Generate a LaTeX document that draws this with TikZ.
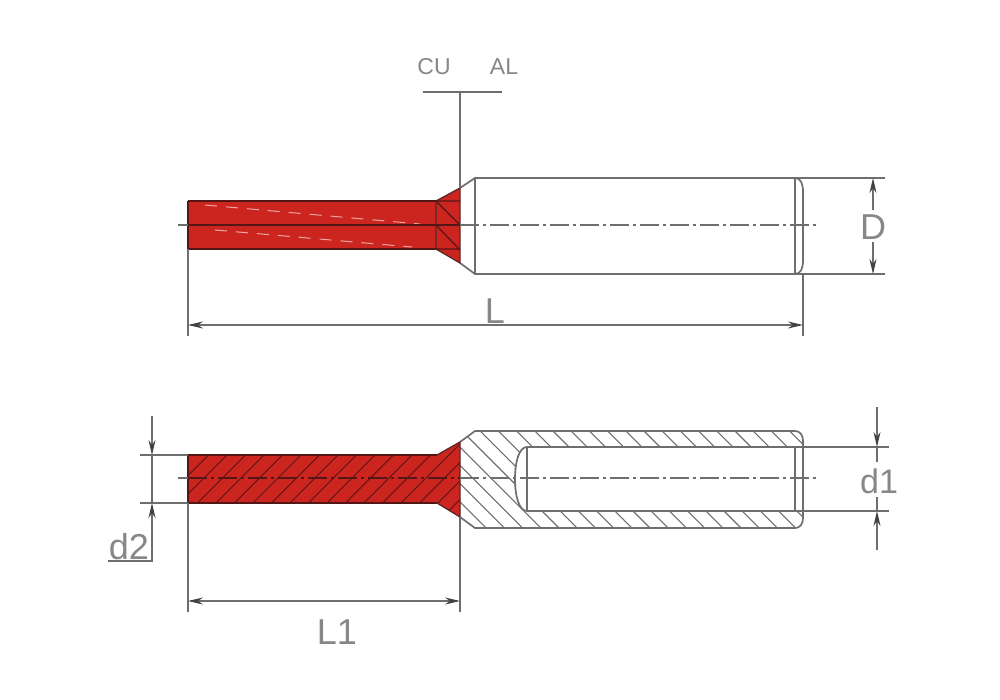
\documentclass[tikz,border=0pt]{standalone}
\usepackage{fontspec}
\setmainfont{Liberation Sans}
\usetikzlibrary{arrows.meta}
\definecolor{cred}{RGB}{204,36,30}
\definecolor{dkred}{RGB}{85,22,22}
\definecolor{ink}{RGB}{110,110,110}
\definecolor{txt}{RGB}{135,135,135}
\tikzset{
  outline/.style={draw=ink,line width=1.7pt},
  thin dim/.style={draw=ink,line width=1.3pt},
  dimarrow/.style={thin dim,-{Stealth[length=15pt,width=7pt,color=ink!60!black]}},
  dimboth/.style={thin dim,{Stealth[length=15pt,width=7pt,color=ink!60!black]}-{Stealth[length=15pt,width=7pt,color=ink!60!black]}},
  centre/.style={draw=ink,line width=1.4pt,dash pattern=on 19pt off 4pt on 3pt off 4pt},
  hatchw/.style={draw=ink,line width=1.1pt},
  hatchr/.style={draw=dkred,line width=1pt},
  lbl/.style={text=txt,inner sep=0pt,anchor=center},
}
\begin{document}
\begin{tikzpicture}[x=1pt,y=-1pt]
\useasboundingbox[fill=white] (0,0) rectangle (1000,700);
% named coordinates
\coordinate (tl) at (188,201);
\coordinate (tbl) at (188,249);
\coordinate (tlx) at (188,336);
\coordinate (trx) at (803,336);
\coordinate (trb) at (803,274);
\coordinate (Lb) at (188,325);
\coordinate (Le) at (803,325);
\coordinate (ct1) at (178,225);
\coordinate (ct2) at (816,225);
\coordinate (cb1) at (178,478);
\coordinate (cb2) at (816,478);
% --- top view body
\draw[outline] (460,188) -- (475,178) -- (795,178) .. controls (801,178) and (803,184) .. (803,192) -- (803,260) .. controls (803,268) and (801,274) .. (795,274) -- (475,274) -- (460,263);
\draw[outline] (475,178) -- (475,274);
\draw[outline] (795,178) -- (795,274);
% top red
\fill[cred] (188,201) -- (436,201) -- (460,188) -- (460,263) -- (436,249) -- (188,249) -- cycle;
\draw[draw=dkred,line width=1.8pt] (188,201) -- (436,201) (188,249) -- (436,249) (188,201) -- (188,249);
\draw[draw=dkred!80!ink,line width=1.3pt] (436,201) -- (460,188) -- (460,263) -- (436,249) -- cycle;
\draw[draw=dkred,line width=1.2pt] (436,201) -- (460,201) (436,249) -- (460,249) (436,201) -- (460,225) (436,225) -- (460,250);
\draw[draw=white!60!cred,line width=1pt,dash pattern=on 12pt off 9pt] (205,205) -- (420,224);
\draw[draw=white!60!cred,line width=1pt,dash pattern=on 12pt off 9pt] (215,230) -- (412,247);
\draw[draw=dkred,line width=1.8pt] (188,225) -- (460,225);
\draw[centre] (460,225) -- (ct2);
\draw[thin dim] (ct1) -- (188,225);
% top dims
\draw[thin dim] (tbl) -- (tlx);
\draw[thin dim] (trb) -- (trx);
\draw[dimboth] (Lb) -- (Le);
\draw[thin dim] (795,178) -- (885,178);
\draw[thin dim] (795,274) -- (885,274);
\draw[dimarrow] (873,210) -- (873,178);
\draw[dimarrow] (873,242) -- (873,274);
% CU AL
\coordinate (ca1) at (423,92);
\coordinate (ca2) at (502,92);
\coordinate (ca3) at (460,92);
\coordinate (ca4) at (460,188);
\draw[thin dim] (ca1) -- (ca2);
\draw[thin dim] (ca3) -- (ca4);
% --- bottom view
\begin{scope}
\clip (460,442) -- (475,431) -- (795,431) .. controls (800,431) and (803,435) .. (803,441) -- (803,447) -- (527,447) .. controls (519,447) and (515,462) .. (515,479) .. controls (515,496) and (519,511) .. (527,511) -- (803,511) -- (803,518) .. controls (803,524) and (800,528) .. (795,528) -- (475,528) -- (460,517) -- cycle;
\foreach \i in {0,...,24} {
  \draw[hatchw] ({340+\i*18.2},400) -- ++(150,150);
}
\end{scope}
\draw[outline] (460,442) -- (475,431) -- (795,431) .. controls (800,431) and (803,435) .. (803,441) -- (803,518) .. controls (803,524) and (800,528) .. (795,528) -- (475,528) -- (460,517);
\draw[outline] (803,447) -- (527,447) .. controls (519,447) and (515,462) .. (515,479) .. controls (515,496) and (519,511) .. (527,511) -- (803,511);
\draw[outline] (527,447) -- (527,511);
\draw[outline] (795,447) -- (795,511);
% bottom red
\fill[cred] (188,455) -- (437,455) -- (460,442) -- (460,517) -- (437,503) -- (188,503) -- cycle;
\begin{scope}
\clip (188,455) -- (437,455) -- (460,442) -- (460,517) -- (437,503) -- (188,503) -- cycle;
\foreach \i in {0,...,18} {
  \draw[hatchr] ({205+\i*18.5},440) -- ++(-90,90);
}
\end{scope}
\draw[draw=dkred,line width=1.8pt] (188,455) -- (437,455) (188,503) -- (437,503) (188,455) -- (188,503);
\draw[draw=dkred!80!ink,line width=1.3pt] (437,455) -- (460,442) -- (460,517) -- (437,503);
\draw[draw=dkred,line width=1.6pt,dash pattern=on 19pt off 4pt on 3pt off 4pt] (188,478) -- (460,478);
\draw[centre] (460,478) -- (cb2);
\draw[thin dim] (cb1) -- (188,478);
% bottom dims
\draw[thin dim] (140,455) -- (188,455);
\draw[thin dim] (140,503) -- (188,503);
\draw[thin dim] (152,455) -- (152,503);
\draw[dimarrow] (152,416) -- (152,455);
\draw[dimarrow] (152,562) -- (152,503);
\draw[thin dim] (108,561) -- (152,561);
\draw[thin dim] (188,503) -- (188,612);
\draw[thin dim] (460,517) -- (460,612);
\coordinate (L1a) at (188,601);
\coordinate (L1b) at (460,601);
\draw[dimboth] (L1a) -- (L1b);
\draw[thin dim] (803,447) -- (889,447);
\draw[thin dim] (803,511) -- (889,511);
\draw[dimarrow] (877,407) -- (877,447);
\draw[dimarrow] (877,550) -- (877,511);
\draw[thin dim] (877,447) -- (877,462);
\draw[thin dim] (877,497) -- (877,511);
% labels
\node[lbl,font=\fontsize{23}{23}\selectfont] (cu) at (434,67) {CU};
\node[lbl,font=\fontsize{23}{23}\selectfont] (al) at (504,67) {AL};
\node[lbl,font=\fontsize{36}{36}\selectfont] (dd) at (873,227) {D};
\node[lbl,font=\fontsize{36}{36}\selectfont] (ll) at (495,311) {L};
\node[lbl,font=\fontsize{34}{34}\selectfont] (d1) at (879,481) {d1};
\node[lbl,font=\fontsize{36}{36}\selectfont] (d2) at (129,547) {d2};
\node[lbl,font=\fontsize{36}{36}\selectfont] (l1) at (337,632) {L1};
\end{tikzpicture}
\end{document}
